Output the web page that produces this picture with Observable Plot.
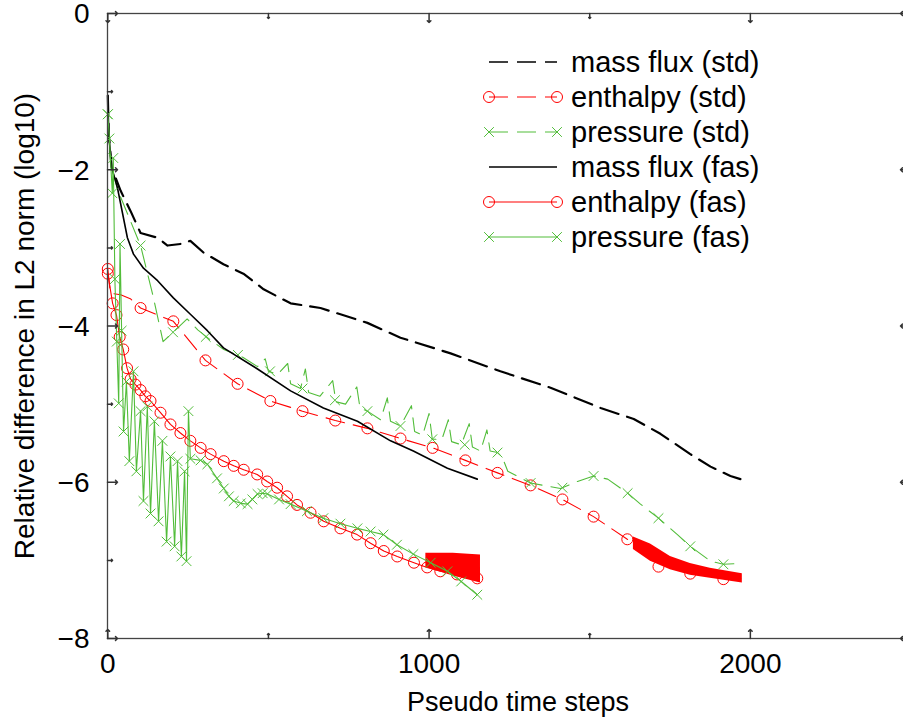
<!DOCTYPE html>
<html><head><meta charset="utf-8">
<script src="https://cdn.jsdelivr.net/npm/d3@7"></script>
<script src="https://cdn.jsdelivr.net/npm/@observablehq/plot@0.6"></script>
<style>
html,body{margin:0;padding:0;background:#fff;}
#wrap{position:relative;width:903px;height:721px;overflow:hidden;}
</style></head><body><div id="wrap"></div>
<script>
// ---- data: [pseudo time step, log10 relative difference] ----
const massFluxStd = [[0,-1.05],[3,-1.54],[12,-1.97],[40,-2.27],[71,-2.53],[102,-2.81],[155,-2.87],[186,-2.97],[226,-2.95],[257,-2.91],[298,-3.06],[360,-3.21],[422,-3.33],[485,-3.53],[569,-3.71],[662,-3.77],[724,-3.85],[808,-3.96],[911,-4.15],[1067,-4.35],[1222,-4.58],[1378,-4.79],[1534,-5.05],[1637,-5.19],[1720,-5.38],[1813,-5.64],[1876,-5.8],[1938,-5.92],[1969,-5.96]];

const enthalpyStd = [[0,-3.27],[8,-3.58],[40,-3.6],[70,-3.65],[102,-3.77],[204,-3.94],[304,-4.44],[404,-4.74],[506,-4.96],[606,-5.09],[708,-5.21],[808,-5.31],[911,-5.44],[1011,-5.56],[1113,-5.72],[1213,-5.88],[1316,-6.04],[1415,-6.22],[1512,-6.44],[1617,-6.73],[1636,-6.76],[1689,-6.9],[1751,-7.04],[1813,-7.11],[1875,-7.16],[1970,-7.23]];
const enthalpyStdMarks = [[0,-3.27],[102,-3.77],[204,-3.94],[304,-4.44],[404,-4.74],[506,-4.96],[606,-5.09],[708,-5.21],[808,-5.31],[911,-5.44],[1011,-5.56],[1113,-5.72],[1213,-5.88],[1316,-6.04],[1415,-6.22],[1512,-6.44],[1617,-6.73],[1714,-7.08],[1813,-7.17],[1916,-7.24]];
// oscillating tail: [step, upper, lower]
const enthalpyStdBand = [[1636,-6.7,-6.86],[1689,-6.79,-7.01],[1751,-6.95,-7.12],[1813,-7.04,-7.19],[1875,-7.1,-7.23],[1975,-7.17,-7.29]];

const pressureStd = [[0,-1.29],[8,-1.9],[30,-2.25],[60,-2.55],[102,-2.97],[140,-3.6],[172,-4.2],[203,-4.08],[247,-3.91],[280,-4.05],[320,-4.18],[361,-4.3],[420,-4.4],[466,-4.52],[490,-4.42],[500,-4.58],[528,-4.62],[560,-4.48],[569,-4.74],[600,-4.8],[615,-4.55],[625,-4.85],[660,-4.9],[700,-4.7],[710,-4.97],[740,-5.0],[775,-4.78],[785,-5.05],[808,-5.09],[849,-5.2],[870,-4.92],[880,-5.22],[911,-5.28],[945,-5.02],[955,-5.35],[980,-5.4],[1000,-5.12],[1010,-5.45],[1040,-5.45],[1060,-5.2],[1070,-5.48],[1100,-5.52],[1125,-5.25],[1135,-5.55],[1160,-5.6],[1180,-5.33],[1190,-5.6],[1213,-5.62],[1228,-5.68],[1245,-5.86],[1316,-6.01],[1409,-6.08],[1462,-5.99],[1512,-5.92],[1556,-5.96],[1618,-6.14],[1658,-6.28],[1714,-6.46],[1773,-6.67],[1813,-6.82],[1876,-7.01],[1916,-7.05],[1969,-7.04]];
const pressureStdMarks = [[0,-1.29],[102,-2.97],[203,-4.08],[305,-4.14],[405,-4.37],[505,-4.58],[606,-4.8],[707,-4.95],[808,-5.09],[911,-5.28],[1010,-5.45],[1111,-5.52],[1213,-5.62],[1316,-6.01],[1415,-6.07],[1512,-5.92],[1618,-6.14],[1714,-6.46],[1813,-6.82],[1916,-7.05]];

const massFluxFas = [[0,-1.05],[3,-1.54],[12,-1.97],[30,-2.23],[46,-2.56],[61,-2.87],[80,-3.08],[111,-3.26],[155,-3.42],[204,-3.64],[257,-3.85],[310,-4.06],[360,-4.28],[466,-4.55],[569,-4.83],[671,-5.05],[777,-5.22],[880,-5.47],[951,-5.6],[1057,-5.82],[1150,-5.96]];

const enthalpyFas = [[0,-3.33],[15,-3.71],[27,-3.86],[37,-4.14],[48,-4.3],[60,-4.54],[71,-4.68],[86,-4.75],[102,-4.82],[117,-4.9],[133,-4.96],[164,-5.11],[195,-5.26],[226,-5.37],[257,-5.47],[289,-5.56],[320,-5.64],[361,-5.73],[392,-5.79],[423,-5.84],[465,-5.9],[496,-5.99],[527,-6.07],[558,-6.18],[589,-6.29],[631,-6.39],[672,-6.5],[724,-6.59],[776,-6.67],[818,-6.78],[859,-6.88],[901,-6.95],[953,-7.03],[994,-7.09],[1035,-7.14],[1087,-7.18],[1150,-7.23]];
const enthalpyFasBand = [[990,-6.91,-7.09],[1075,-6.91,-7.2],[1160,-6.93,-7.29]];

const pressureFas = [[0,-1.29],[5,-1.6],[14,-2.3],[17,-1.85],[22,-3.4],[28,-4.2],[34,-4.99],[38,-2.95],[43,-4.06],[49,-5.35],[58,-4.71],[67,-5.73],[80,-4.58],[89,-5.86],[102,-5.09],[111,-6.24],[123,-5.03],[133,-6.4],[145,-5.22],[158,-6.5],[170,-5.47],[183,-6.76],[195,-5.67],[208,-6.82],[217,-5.73],[229,-6.95],[239,-5.86],[245,-7.01],[251,-5.09],[257,-5.7],[289,-5.72],[310,-5.77],[340,-5.95],[361,-6.08],[377,-6.18],[392,-6.24],[414,-6.27],[435,-6.28],[450,-6.22],[466,-6.15],[482,-6.14],[497,-6.15],[533,-6.22],[569,-6.28],[620,-6.37],[671,-6.46],[724,-6.53],[777,-6.59],[818,-6.63],[858,-6.67],[900,-6.8],[951,-6.92],[1005,-7.03],[1057,-7.14],[1100,-7.27],[1150,-7.44]];

const xMajorTicks = [0, 1000, 2000];
const xMinorTicks = [500, 1500, 2500];
const yMajorTicks = [0, -2, -4, -6, -8];
const yMinorTicks = [-1, -3, -5, -7];
const yTickLabels = ["0", "\u22122", "\u22124", "\u22126", "\u22128"];
const xTickLabels = ["0", "1000", "2000"];
const xLabel = "Pseudo time steps";
const yLabel = "Relative difference in L2 norm (log10)";
const legendLabels = ["mass flux (std)", "enthalpy (std)", "pressure (std)", "mass flux (fas)", "enthalpy (fas)", "pressure (fas)"];

// ---- styles ----
const RED = "#ff0000", GREEN = "#52bd3a", BLACK = "#000000";
const DASH = "19,9";
const FONT = "'Liberation Sans', Arial, Helvetica, sans-serif";
const FS = 28;
const X = d => d[0], Y = d => d[1];

const chart = Plot.plot({
  width: 903, height: 721,
  marginLeft: 107, marginRight: -7, marginTop: 13, marginBottom: 83,
  x: {domain: [0, 2500], range: [107.3, 910.5], axis: null},
  y: {domain: [-8, 0], range: [638, 13], axis: null},
  style: {fontFamily: FONT, fontSize: FS + "px", background: "white", overflow: "visible"},
  marks: [
    // series (gnuplot order)
    Plot.line(massFluxStd, {x: X, y: Y, stroke: BLACK, strokeWidth: 2.2, strokeDasharray: DASH}),
    Plot.line(enthalpyStd, {x: X, y: Y, stroke: RED, strokeWidth: 1.1, strokeDasharray: DASH}),
    Plot.areaY(enthalpyStdBand, {x: d => d[0], y1: d => d[1], y2: d => d[2], fill: RED}),
    Plot.dot(enthalpyStdMarks, {x: X, y: Y, symbol: "circle", r: 5.5, stroke: RED, fill: "none", strokeWidth: 1}),
    Plot.line(pressureStd, {x: X, y: Y, stroke: GREEN, strokeWidth: 1.1, strokeDasharray: DASH}),
    Plot.dot(pressureStdMarks, {x: X, y: Y, symbol: "times", r: 4.5, stroke: GREEN, strokeWidth: 1}),
    Plot.line(massFluxFas, {x: X, y: Y, stroke: BLACK, strokeWidth: 1.6}),
    Plot.line(enthalpyFas, {x: X, y: Y, stroke: RED, strokeWidth: 1.1}),
    Plot.areaY(enthalpyFasBand, {x: d => d[0], y1: d => d[1], y2: d => d[2], fill: RED}),
    Plot.dot(enthalpyFas, {x: X, y: Y, symbol: "circle", r: 5.5, stroke: RED, fill: "none", strokeWidth: 1}),
    Plot.line(pressureFas, {x: X, y: Y, stroke: GREEN, strokeWidth: 1.1}),
    Plot.dot(pressureFas, {x: X, y: Y, symbol: "times", r: 4.5, stroke: GREEN, strokeWidth: 1}),
    // frame and inward ticks (mirrored)
    Plot.frame({stroke: "#444", strokeWidth: 1.3}),
    Plot.vector(xMajorTicks, {x: d => d, frameAnchor: "bottom", length: 9, rotate: 0, anchor: "start", stroke: "#333"}),
    Plot.vector(xMinorTicks, {x: d => d, frameAnchor: "bottom", length: 5, rotate: 0, anchor: "start", stroke: "#333"}),
    Plot.vector(xMajorTicks, {x: d => d, frameAnchor: "top", length: 9, rotate: 180, anchor: "start", stroke: "#333"}),
    Plot.vector(xMinorTicks, {x: d => d, frameAnchor: "top", length: 5, rotate: 180, anchor: "start", stroke: "#333"}),
    Plot.vector(yMajorTicks, {y: d => d, frameAnchor: "left", length: 10, rotate: 90, anchor: "start", stroke: "#333"}),
    Plot.vector(yMinorTicks, {y: d => d, frameAnchor: "left", length: 5, rotate: 90, anchor: "start", stroke: "#333"}),
    Plot.vector(yMajorTicks, {y: d => d, frameAnchor: "right", length: 10, rotate: -90, anchor: "start", stroke: "#333"}),
    Plot.vector(yMinorTicks, {y: d => d, frameAnchor: "right", length: 5, rotate: -90, anchor: "start", stroke: "#333"}),
    // tick labels
    Plot.text(xMajorTicks, {x: d => d, text: (d, i) => xTickLabels[i], frameAnchor: "bottom", dy: 34, lineAnchor: "bottom", textAnchor: "middle", fontSize: FS}),
    Plot.text(yMajorTicks, {y: d => d, text: (d, i) => yTickLabels[i], frameAnchor: "left", dx: -18, dy: 1, lineAnchor: "middle", textAnchor: "end", fontSize: FS}),
    // axis titles
    Plot.text([xLabel], {text: d => d, frameAnchor: "bottom", dx: 9, dy: 72, lineAnchor: "bottom", textAnchor: "middle", fontSize: 27}),
    Plot.text([yLabel], {text: d => d, frameAnchor: "left", dx: -74, rotate: -90, lineAnchor: "bottom", textAnchor: "middle", fontSize: FS})
  ]
});

document.getElementById("wrap").appendChild(chart);

// ---- legend (key) inside the plot, top right ----
const legendSpec = [
  {stroke: BLACK, dash: DASH, marker: null, width: 1.3},
  {stroke: RED, dash: DASH, marker: "circle", width: 1.1},
  {stroke: GREEN, dash: DASH, marker: "times", width: 1.1},
  {stroke: BLACK, dash: null, marker: null, width: 1.3},
  {stroke: RED, dash: null, marker: "circle", width: 1.1},
  {stroke: GREEN, dash: null, marker: "times", width: 1.1}
];
const svg = d3.select(chart.tagName.toLowerCase() === "svg" ? chart : chart.querySelector("svg"));
const lg = svg.append("g").attr("font-family", FONT).attr("font-size", 29).attr("text-anchor", "start");
const lx1 = 489, lx2 = 557, ltx = 571, ly0 = 62, lstep = 35;
legendLabels.forEach((label, i) => {
  const s = legendSpec[i];
  const y = ly0 + i * lstep;
  const ln = lg.append("line").attr("x1", lx1).attr("x2", lx2).attr("y1", y).attr("y2", y)
    .attr("stroke", s.stroke).attr("stroke-width", s.width);
  if (s.dash) ln.attr("stroke-dasharray", s.dash);
  [lx1, lx2].forEach(x => {
    if (s.marker === "circle") {
      lg.append("circle").attr("cx", x).attr("cy", y).attr("r", 5.5).attr("fill", "none").attr("stroke", s.stroke);
    } else if (s.marker === "times") {
      lg.append("path").attr("d", d3.symbol(d3.symbolTimes, Math.PI * 4.5 * 4.5)())
        .attr("transform", `translate(${x},${y})`).attr("fill", "none").attr("stroke", s.stroke);
    }
  });
  lg.append("text").attr("x", ltx).attr("y", y + 10).attr("text-anchor", "start").attr("fill", "black").text(label);
});
</script>
</body></html>
